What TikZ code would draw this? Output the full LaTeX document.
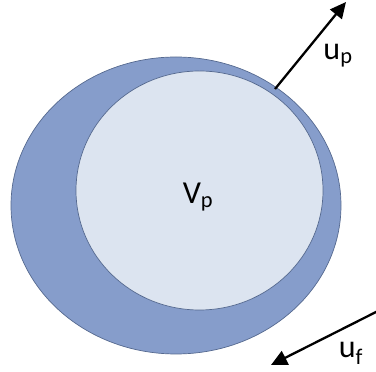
\documentclass[tikz,border=0pt]{standalone}
\usepackage{fontspec}
\setmainfont{Carlito}
\usetikzlibrary{arrows.meta}

\definecolor{buitenblauw}{HTML}{869DCB}
\definecolor{binnenblauw}{HTML}{DCE4F0}
\definecolor{randblauw}{HTML}{55698F}

\begin{document}
\begin{tikzpicture}[x=1pt, y=1pt]

            % Stijlen voor de deeltjes, snelheden en labels
            \tikzset{
                buitendeel/.style={fill=buitenblauw, draw=randblauw, line width=0.7pt},
                binnendeel/.style={fill=binnenblauw, draw=randblauw, line width=0.7pt},
                snelheid/.style={line width=2.3pt, black, -{Triangle[length=16pt, width=15pt]}},
                label/.style={font=\fontsize{32}{32}\selectfont, inner sep=0pt}
            }

            % Kader van de afbeelding
            \useasboundingbox (0, 0) rectangle (376, 372);

            % --- DEELTJE TEKENEN ---
            % Buitenste ellips (donkerblauw)
            \draw[buitendeel] (176, 166.5) ellipse [x radius=165, y radius=148.5];

            % Binnenste ellips (lichtblauw)
            \draw[binnendeel] (199.5, 181.5) ellipse [x radius=123.5, y radius=119.5];

            % --- LABELS ---
            \node[label] (vp) at (198, 175) {V\textsubscript{p}};
            \node[label] (up) at (338, 316) {u\textsubscript{p}};
            \node[label] (uf) at (351, 19) {u\textsubscript{f}};

            % --- SNELHEIDSPIJLEN ---
            \coordinate (upstart) at (275, 283);
            \coordinate (upeind) at (346, 370);
            \coordinate (ufstart) at (378, 61);
            \coordinate (ufeind) at (271, 7);
            \draw[snelheid] (upstart) -- (upeind);
            \draw[snelheid] (ufstart) -- (ufeind);

        \end{tikzpicture}
\end{document}
